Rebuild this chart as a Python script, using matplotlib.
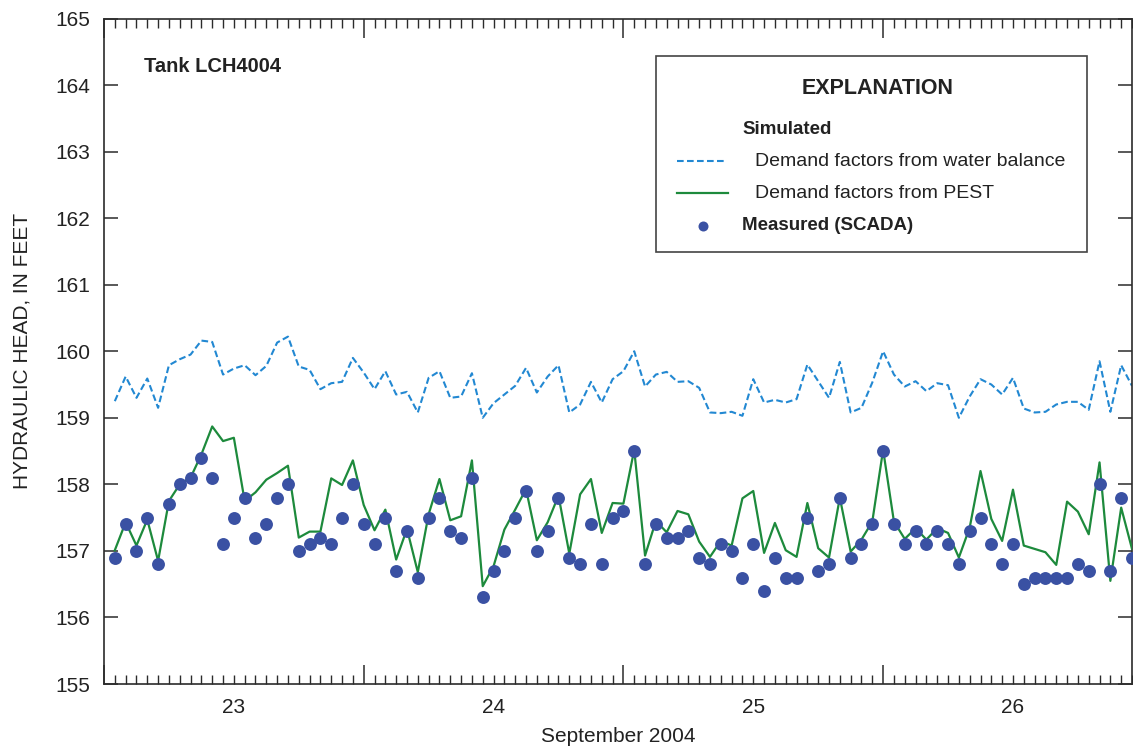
import matplotlib
matplotlib.use("Agg")
import matplotlib.pyplot as plt
from matplotlib.lines import Line2D
from matplotlib.ticker import FixedLocator, FuncFormatter
import numpy as np

plt.rcParams['font.family'] = ['Liberation Sans Narrow', 'Liberation Sans', 'DejaVu Sans']

# Hours after 00:00 on 23 September 2004
hours = list(range(1, 96))

water_balance = [
    159.25, 159.62, 159.30, 159.59, 159.15, 159.79, 159.88, 159.95, 160.16, 160.14,
    159.65, 159.74, 159.79, 159.64, 159.78, 160.13, 160.22, 159.77, 159.72, 159.43,
    159.52, 159.54, 159.90, 159.68, 159.43, 159.70, 159.35, 159.39, 159.08, 159.60,
    159.70, 159.30, 159.32, 159.67, 159.00, 159.22, 159.35, 159.48, 159.75, 159.38,
    159.62, 159.79, 159.08, 159.20, 159.54, 159.23, 159.58, 159.70, 160.00, 159.47,
    159.65, 159.69, 159.54, 159.55, 159.45, 159.08, 159.07, 159.09, 159.03, 159.58,
    159.23, 159.27, 159.23, 159.28, 159.80, 159.55, 159.30, 159.84, 159.08, 159.15,
    159.53, 160.00, 159.65, 159.47, 159.55, 159.40, 159.52, 159.49, 159.00, 159.32,
    159.58, 159.50, 159.35, 159.60, 159.14, 159.08, 159.09, 159.20, 159.24, 159.24,
    159.12, 159.85, 159.09, 159.79, 159.48,
]

pest = [
    157.01, 157.43, 157.08, 157.47, 156.85, 157.75, 158.00, 158.10, 158.45, 158.87,
    158.65, 158.70, 157.75, 157.88, 158.07, 158.17, 158.28, 157.20, 157.29, 157.29,
    158.09, 157.99, 158.36, 157.69, 157.31, 157.62, 156.87, 157.33, 156.68, 157.55,
    158.08, 157.46, 157.52, 158.36, 156.47, 156.77, 157.32, 157.62, 157.93, 157.16,
    157.43, 157.83, 156.96, 157.85, 158.08, 157.27, 157.72, 157.71, 158.52, 156.93,
    157.45, 157.28, 157.60, 157.55, 157.14, 156.91, 157.15, 157.08, 157.79, 157.90,
    156.97, 157.42, 157.01, 156.91, 157.72, 157.04, 156.90, 157.80, 156.99, 157.17,
    157.44, 158.52, 157.44, 157.18, 157.34, 157.17, 157.34, 157.27, 156.90, 157.35,
    158.20, 157.48, 157.15, 157.92, 157.08, 157.03, 156.98, 156.79, 157.74, 157.59,
    157.25, 158.33, 156.55, 157.65, 157.03,
]

measured = [
    156.9, 157.4, 157.0, 157.5, 156.8, 157.7, 158.0, 158.1, 158.4, 158.1,
    157.1, 157.5, 157.8, 157.2, 157.4, 157.8, 158.0, 157.0, 157.1, 157.2,
    157.1, 157.5, 158.0, 157.4, 157.1, 157.5, 156.7, 157.3, 156.6, 157.5,
    157.8, 157.3, 157.2, 158.1, 156.3, 156.7, 157.0, 157.5, 157.9, 157.0,
    157.3, 157.8, 156.9, 156.8, 157.4, 156.8, 157.5, 157.6, 158.5, 156.8,
    157.4, 157.2, 157.2, 157.3, 156.9, 156.8, 157.1, 157.0, 156.6, 157.1,
    156.4, 156.9, 156.6, 156.6, 157.5, 156.7, 156.8, 157.8, 156.9, 157.1,
    157.4, 158.5, 157.4, 157.1, 157.3, 157.1, 157.3, 157.1, 156.8, 157.3,
    157.5, 157.1, 156.8, 157.1, 156.5, 156.6, 156.6, 156.6, 156.6, 156.8,
    156.7, 158.0, 156.7, 157.8, 156.9,
]

day_labels = ['23', '24', '25', '26']
y_ticks = list(range(155, 166))

BLUE_DASH = '#2288d2'
GREEN = '#1d8a3c'
DOT = '#3a51a3'
DARK = '#2b2b2b'
TXT = '#222222'

W, H = 1133, 748
fig = plt.figure(figsize=(W / 100, H / 100), dpi=100)
L, R, T, B = 104, 1132, 18.5, 684
ax = fig.add_axes([L / W, 1 - B / H, (R - L) / W, (B - T) / H])

ax.plot(hours, water_balance, color=BLUE_DASH, lw=1.5, dashes=(3.2, 1.6), zorder=2)
ax.plot(hours, pest, color=GREEN, lw=1.6, zorder=3)
ax.plot(hours, measured, 'o', color=DOT, ms=9.3, mec='none', zorder=4)

ax.set_xlim(0, 95)
ax.set_ylim(155, 165)

# x ticks: long ticks at midnight, short ticks hourly, day label at noon
ax.xaxis.set_major_locator(FixedLocator([0, 24, 48, 72]))
ax.xaxis.set_major_formatter(FuncFormatter(lambda v, p: ''))
minor_pos = [h for h in range(0, 96) if h % 24 != 0]
ax.xaxis.set_minor_locator(FixedLocator(minor_pos))


def minor_fmt(v, p):
    h = int(round(v))
    if h % 24 == 12:
        return day_labels[h // 24]
    return ''


ax.xaxis.set_minor_formatter(FuncFormatter(minor_fmt))
ax.tick_params(axis='x', which='major', direction='in', length=14, width=1.1,
               color=DARK, top=True, bottom=True)
ax.tick_params(axis='x', which='minor', direction='in', length=6.5, width=1.0,
               color=DARK, top=True, bottom=True, labelsize=15, pad=10,
               labelcolor=TXT)

ax.set_yticks(y_ticks)
ax.tick_params(axis='y', which='major', direction='in', length=10, width=1.1,
               color=DARK, left=True, right=True, labelsize=15, pad=10,
               labelcolor=TXT)

for s in ax.spines.values():
    s.set_color(DARK)
    s.set_linewidth(1.2)

fig.text(22 / W, 1 - 351 / H, 'HYDRAULIC HEAD, IN FEET', rotation=90,
         ha='center', va='center', fontsize=15, color=TXT)
fig.text(618 / W, 1 - 737 / H, 'September 2004', ha='center', va='center',
         fontsize=15, color=TXT)
fig.text(144 / W, 1 - 67 / H, 'Tank LCH4004', ha='left', va='center',
         fontsize=14.5, fontweight='bold', color=TXT)


def px(x, y):
    return x / W, 1 - y / H


# Explanation box
bx0, by0, bx1, by1 = 656, 56, 1087, 252
box = plt.Rectangle(px(bx0, by1), (bx1 - bx0) / W, (by1 - by0) / H,
                    transform=fig.transFigure, fill=True, facecolor='white',
                    edgecolor='#444444', lw=1.2, zorder=10)
fig.add_artist(box)

fig.text(*px(878, 89), 'EXPLANATION', ha='center', va='center', fontsize=15.5,
         fontweight='bold', color=TXT, zorder=11)
fig.text(*px(742, 130), 'Simulated', ha='left', va='center', fontsize=13.5,
         fontweight='bold', color=TXT, zorder=11)
fig.add_artist(Line2D([677 / W, 727 / W], [1 - 161 / H] * 2, color=BLUE_DASH,
                      lw=1.5, dashes=(3.2, 1.6), transform=fig.transFigure, zorder=11))
fig.text(*px(755, 161), 'Demand factors from water balance', ha='left', va='center',
         fontsize=14, color=TXT, zorder=11)
fig.add_artist(Line2D([677 / W, 728 / W], [1 - 193 / H] * 2, color=GREEN,
                      lw=1.6, transform=fig.transFigure, zorder=11))
fig.text(*px(755, 193), 'Demand factors from PEST', ha='left', va='center',
         fontsize=14, color=TXT, zorder=11)
fig.add_artist(Line2D([703 / W], [1 - 226 / H], marker='o', ms=7.2, color=DOT,
                      mec='none', ls='none', transform=fig.transFigure, zorder=11))
fig.text(*px(742, 226), 'Measured (SCADA)', ha='left', va='center', fontsize=13.5,
         fontweight='bold', color=TXT, zorder=11)

fig.savefig('out.png', dpi=100)
